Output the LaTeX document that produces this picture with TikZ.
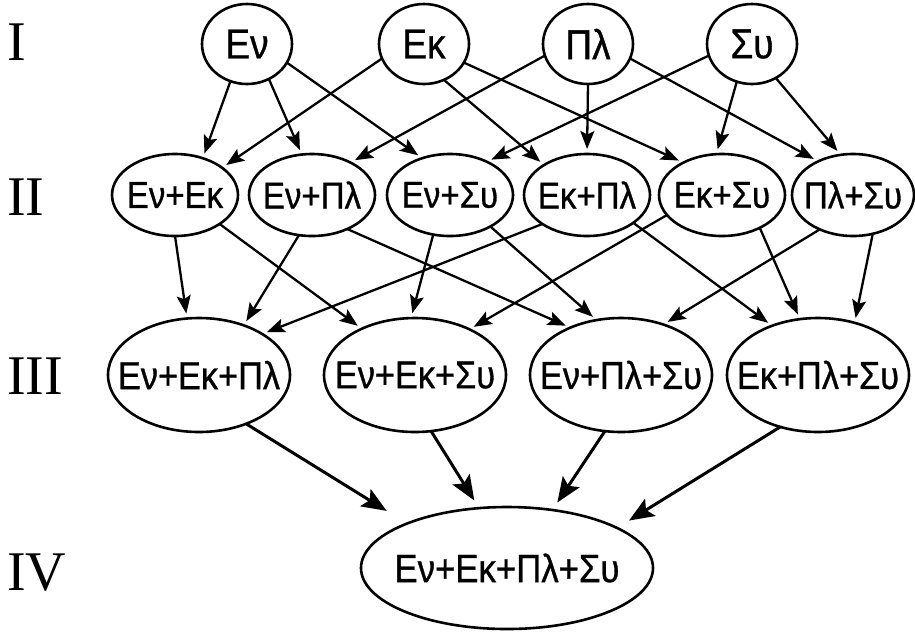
\documentclass[tikz,border=0pt]{standalone}
\usepackage{fontspec}
\newfontfamily\grfont[FakeStretch=0.88,FakeBold=0.8]{Liberation Sans}
\newfontfamily\romfont{Liberation Serif}
\usetikzlibrary{shapes.geometric,arrows.meta}
\newcommand\gtxt[1]{\makebox[0pt]{#1}}
\begin{document}
\begin{tikzpicture}[x=1pt,y=-1pt,
  ell/.style={ellipse,draw,line width=2.6pt,inner sep=0pt,outer sep=0pt},
  rowone/.style={ell,minimum width=90pt,minimum height=80pt,font={\grfont\fontsize{42pt}{42pt}\selectfont}},
  rowtwo/.style={ell,minimum width=126pt,minimum height=82pt,font={\grfont\fontsize{37.5pt}{37.5pt}\selectfont}},
  rowthree/.style={ell,minimum width=182pt,minimum height=114pt,font={\grfont\fontsize{39pt}{39pt}\selectfont}},
  rowfour/.style={ell,minimum width=292pt,minimum height=122pt,font={\grfont\fontsize{39.5pt}{39.5pt}\selectfont}},
  roman/.style={anchor=base west,inner sep=0pt,font={\romfont\fontsize{56pt}{56pt}\selectfont}},
  arr/.style={-{Stealth[length=18pt,width=14pt,inset=3.5pt]},line width=2.3pt,shorten >=5pt},
  bigarr/.style={-{Stealth[length=25pt,width=20pt,inset=5pt]},line width=3pt}
]
\useasboundingbox (0,0) rectangle (915,633);

% row labels
\node[roman] (l1) at (7,60) {I};
\node[roman] (l2) at (7,215) {II};
\node[roman] (l3) at (7,394) {III};
\node[roman] (l4) at (7,590) {IV};

% row I
\node[rowone] (ev) at (247,44) {\gtxt{Εν}};
\node[rowone] (ek) at (424,44) {\gtxt{Εκ}};
\node[rowone] (pl) at (588,44) {\gtxt{Πλ}};
\node[rowone] (su) at (752,44) {\gtxt{Συ}};

% row II
\node[rowtwo] (a) at (175,195) {\gtxt{Εν+Εκ}};
\node[rowtwo] (b) at (312,195) {\gtxt{Εν+Πλ}};
\node[rowtwo] (c) at (450,195) {\gtxt{Εν+Συ}};
\node[rowtwo] (d) at (587,195) {\gtxt{Εκ+Πλ}};
\node[rowtwo] (e) at (722,195) {\gtxt{Εκ+Συ}};
\node[rowtwo,minimum width=122pt] (f) at (853,195) {\gtxt{Πλ+Συ}};

% row III
\node[rowthree] (A) at (199,375) {\gtxt{Εν+Εκ+Πλ}};
\node[rowthree] (B) at (415,375) {\gtxt{Εν+Εκ+Συ}};
\node[rowthree] (C) at (621,375) {\gtxt{Εν+Πλ+Συ}};
\node[rowthree] (D) at (818,375) {\gtxt{Εκ+Πλ+Συ}};

% row IV
\node[rowfour] (Z) at (507,568) {\gtxt{Εν+Εκ+Πλ+Συ}};

% I -> II
\draw[arr] (ev.-114) -- (a.53);
\draw[arr] (ev.-58) -- (b.104);
\draw[arr] (ev.-25) -- (c.127);
\draw[arr] (ek.-161) -- (a.30);
\draw[arr] (ek.-61) -- (d.145);
\draw[arr] (ek.-25) -- (e.140);
\draw[arr] (pl.-165) -- (b.40);
\draw[arr] (pl.-90) -- (d.90);
\draw[arr] (pl.-19) -- (f.136);
\draw[arr] (su.-165) -- (c.42);
\draw[arr] (su.-112) -- (e.98);
\draw[arr] (su.-55) -- (f.107);

% II -> III
\draw[arr] (a.-90) -- (A.102);
\draw[arr] (a.-33) -- (B.139);
\draw[arr] (b.-108) -- (A.48);
\draw[arr] (b.-44) -- (C.137);
\draw[arr] (c.-113) -- (B.94);
\draw[arr] (c.-38) -- (C.114);
\draw[arr] (d.-147) -- (A.33);
\draw[arr] (d.-31) -- (D.133);
\draw[arr] (e.-160) -- (B.40);
\draw[arr] (e.-41) -- (D.108);
\draw[arr] (f.-134) -- (C.50);
\draw[arr] (f.-63) -- (D.55);

% III -> IV
\draw[bigarr,shorten >=24pt] (A.-46) -- (Z.156);
\draw[bigarr,shorten >=9pt] (B.-74) -- (Z.115);
\draw[bigarr,shorten >=9pt] (C.-106) -- (Z.52);
\draw[bigarr,shorten >=14pt] (D.-126) -- (Z.20);
\end{tikzpicture}
\end{document}
